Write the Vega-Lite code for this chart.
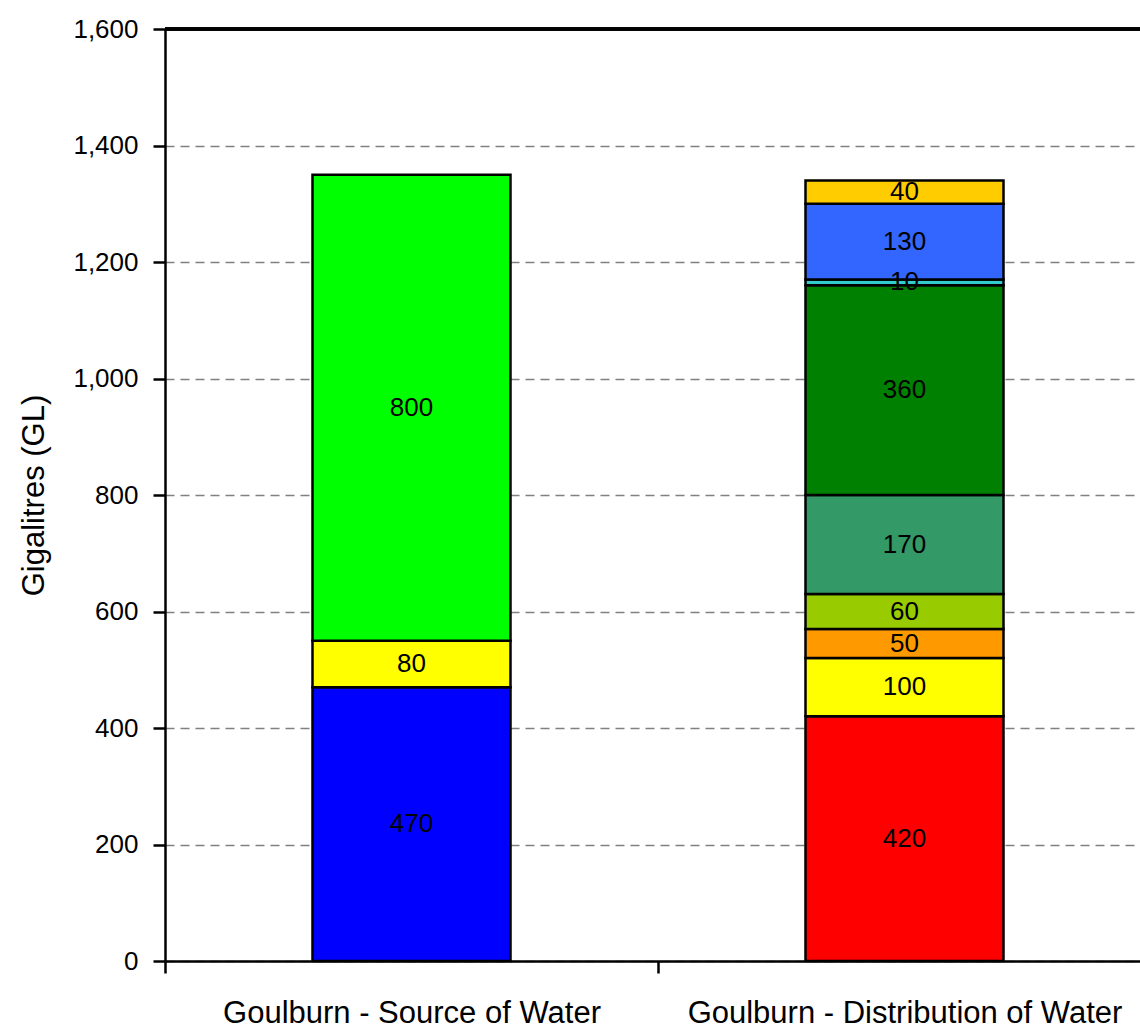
{
  "$schema": "https://vega.github.io/schema/vega-lite/v6.json",
  "autosize": {"type": "none"},
  "padding": {"left": 165, "top": 29, "right": 0, "bottom": 70},
  "width": 975,
  "height": 932,
  "background": "white",
  "config": {
    "view": {"stroke": null},
    "font": "Liberation Sans"
  },
  "data": {
    "values": [
      {"cat": "Goulburn - Source of Water", "segment": "Source 1", "value": 470, "ord": 1},
      {"cat": "Goulburn - Source of Water", "segment": "Source 2", "value": 80, "ord": 2},
      {"cat": "Goulburn - Source of Water", "segment": "Source 3", "value": 800, "ord": 3},
      {"cat": "Goulburn - Distribution of Water", "segment": "Use 1", "value": 420, "ord": 1},
      {"cat": "Goulburn - Distribution of Water", "segment": "Use 2", "value": 100, "ord": 2},
      {"cat": "Goulburn - Distribution of Water", "segment": "Use 3", "value": 50, "ord": 3},
      {"cat": "Goulburn - Distribution of Water", "segment": "Use 4", "value": 60, "ord": 4},
      {"cat": "Goulburn - Distribution of Water", "segment": "Use 5", "value": 170, "ord": 5},
      {"cat": "Goulburn - Distribution of Water", "segment": "Use 6", "value": 360, "ord": 6},
      {"cat": "Goulburn - Distribution of Water", "segment": "Use 7", "value": 10, "ord": 7},
      {"cat": "Goulburn - Distribution of Water", "segment": "Use 8", "value": 130, "ord": 8},
      {"cat": "Goulburn - Distribution of Water", "segment": "Use 9", "value": 40, "ord": 9}
    ]
  },
  "encoding": {
    "x": {
      "field": "cat",
      "type": "nominal",
      "sort": ["Goulburn - Source of Water", "Goulburn - Distribution of Water"],
      "scale": {"range": [0, 986], "paddingInner": 0, "paddingOuter": 0},
      "axis": {
        "title": null,
        "labelAngle": 0,
        "labelLimit": 0,
        "tickBand": "extent",
        "domainColor": "black",
        "domainWidth": 2.5,
        "tickColor": "black",
        "tickWidth": 2.5,
        "tickSize": 12,
        "labelFont": "Liberation Sans",
        "labelFontWeight": "normal",
        "labelFontSize": 31,
        "labelColor": "black",
        "labelPadding": 25
      }
    }
  },
  "layer": [
    {
      "mark": {"type": "rule", "color": "black", "strokeWidth": 2.5},
      "encoding": {"y": {"datum": 1600, "type": "quantitative"}, "x": null}
    },
    {
      "mark": {"type": "bar", "width": 198, "stroke": "black", "strokeWidth": 2.5},
      "encoding": {
        "y": {
          "field": "value",
          "type": "quantitative",
          "stack": "zero",
          "scale": {"domain": [0, 1600], "nice": false},
          "axis": {
            "title": "Gigalitres (GL)",
            "values": [0, 200, 400, 600, 800, 1000, 1200, 1400, 1600],
            "format": ",.0f",
            "domainColor": "black",
            "domainWidth": 2.5,
            "tickColor": "black",
            "tickWidth": 2.5,
            "tickSize": 12,
            "labelFont": "Liberation Sans",
            "labelFontWeight": "normal",
            "labelFontSize": 26,
            "labelColor": "black",
            "labelPadding": 15,
            "titleFont": "Liberation Sans",
            "titleFontWeight": "normal",
            "titleFontSize": 31,
            "titleColor": "black",
            "titlePadding": 22,
            "grid": true,
            "gridColor": "#808080",
            "gridDash": [9, 6],
            "gridWidth": 1.5
          }
        },
        "color": {
          "field": "segment",
          "type": "nominal",
          "scale": {
            "domain": ["Source 1", "Source 2", "Source 3", "Use 1", "Use 2", "Use 3", "Use 4", "Use 5", "Use 6", "Use 7", "Use 8", "Use 9"],
            "range": ["#0000FF", "#FFFF00", "#00FF00", "#FF0000", "#FFFF00", "#FF9900", "#99CC00", "#339966", "#008000", "#33CCCC", "#3366FF", "#FFCC00"]
          },
          "legend": null
        },
        "order": {"field": "ord", "type": "quantitative"}
      }
    },
    {
      "mark": {"type": "text", "font": "Liberation Sans", "fontSize": 26, "color": "black", "baseline": "middle"},
      "encoding": {
        "y": {"field": "value", "type": "quantitative", "stack": "zero", "bandPosition": 0.5},
        "detail": {"field": "segment"},
        "order": {"field": "ord", "type": "quantitative"},
        "text": {"field": "value", "type": "quantitative"}
      }
    }
  ]
}
